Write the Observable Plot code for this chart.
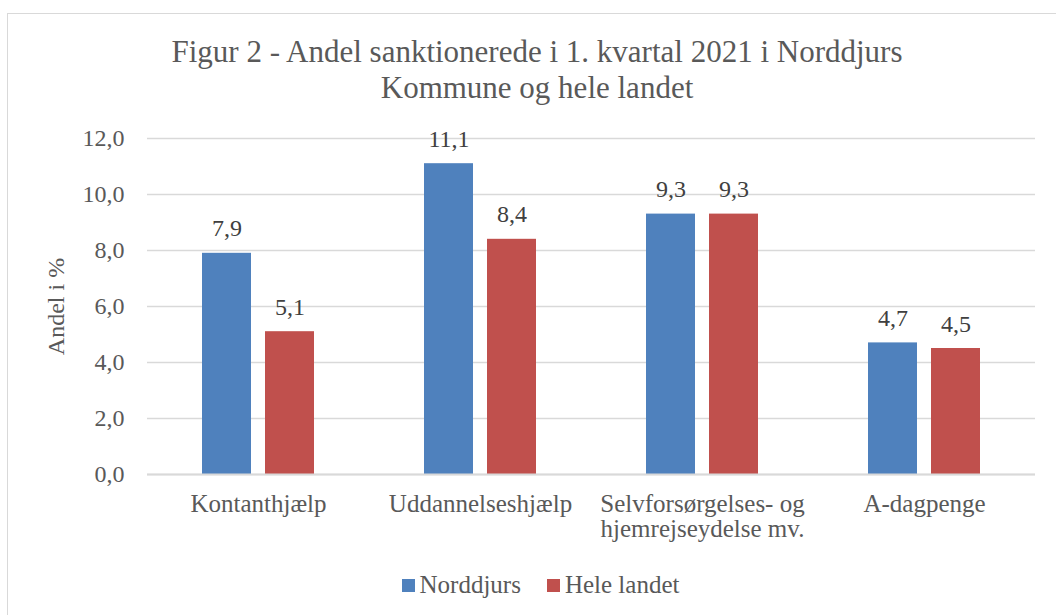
<!DOCTYPE html>
<html>
<head>
<meta charset="utf-8">
<script src="https://cdn.jsdelivr.net/npm/d3@7"></script>
<script src="https://cdn.jsdelivr.net/npm/@observablehq/plot@0.6"></script>
<style>
  html, body { margin: 0; padding: 0; background: #fff; }
  body { width: 1056px; height: 615px; position: relative; overflow: hidden; font-family: "Liberation Serif", serif; color: #595959; }
  #frame { position: absolute; left: 7px; top: 13px; width: 1200px; height: 800px; border: 1.5px solid #d9d9d9; box-sizing: border-box; }
  #title { position: absolute; left: 0; top: 34px; width: 1074px; text-align: center; font-size: 31px; line-height: 36px; color: #595959; }
  #chart { position: absolute; left: 0; top: 110px; }
  #legend { position: absolute; top: 572px; left: 0; width: 1081px; display: flex; justify-content: center; font-size: 25px; line-height: 25px; font-family: "Liberation Serif", serif; }
  .item { display: flex; align-items: center; margin: 0 13px; }
  .sw { width: 13px; height: 13px; margin-right: 5px; margin-top: 2px; }
</style>
</head>
<body>
<div id="frame"></div>
<div id="title">Figur 2 - Andel sanktionerede i 1. kvartal 2021 i Norddjurs<br>Kommune og hele landet</div>
<div id="chart"></div>
<div id="legend"></div>
<script>
const categories = ["Kontanthjælp", "Uddannelseshjælp", "Selvforsørgelses- og\nhjemrejseydelse mv.", "A-dagpenge"];
const series = ["Norddjurs", "Hele landet"];
const norddjurs = [7.9, 11.1, 9.3, 4.7];
const heleLandet = [5.1, 8.4, 9.3, 4.5];
const colors = ["#4f81bd", "#c0504d"];
const yTicks = [0, 2, 4, 6, 8, 10, 12];

const data = [];
categories.forEach((c, i) => {
  data.push({category: c, series: series[0], value: norddjurs[i]});
  data.push({category: c, series: series[1], value: heleLandet[i]});
});

const fmt = v => d3.format(".1f")(v).replace(".", ",");

const chart = Plot.plot({
  width: 1056,
  height: 450,
  marginLeft: 146,
  marginRight: 20,
  marginTop: 28,
  marginBottom: 86,
  style: {fontFamily: "Liberation Serif, serif", color: "#595959", background: "transparent"},
  fx: {domain: categories, padding: 0, label: null},
  x: {domain: series, paddingInner: 0.21875, paddingOuter: 0.852, axis: null},
  y: {domain: [0, 12], label: null},
  color: {domain: series, range: colors},
  marks: [
    Plot.gridY(yTicks, {stroke: "#d9d9d9", strokeOpacity: 1, strokeWidth: 1.5}),
    Plot.barY(data, {fx: "category", x: "series", y: "value", fill: "series"}),
    Plot.ruleY([0], {stroke: "#d9d9d9", strokeWidth: 2}),
    Plot.text(data, {fx: "category", x: "series", y: "value", text: d => fmt(d.value), lineAnchor: "bottom", dy: -17, fontSize: 24, fill: "#404040"}),
    Plot.axisY(yTicks, {tickSize: 0, tickPadding: 23, tickFormat: fmt, fontSize: 24, label: "Andel i %", labelAnchor: "center", labelArrow: "none", labelOffset: 101, color: "#595959"}),
    Plot.axisFx({anchor: "bottom", tickSize: 0, tickPadding: 20, fontSize: 25, label: null, lineHeight: 1, color: "#595959"})
  ]
});
document.getElementById("chart").appendChild(chart);

const legend = document.getElementById("legend");
series.forEach((s, i) => {
  const item = document.createElement("div");
  item.className = "item";
  const sw = document.createElement("span");
  sw.className = "sw";
  sw.style.background = colors[i];
  const t = document.createElement("span");
  t.textContent = s;
  item.appendChild(sw);
  item.appendChild(t);
  legend.appendChild(item);
});
</script>
</body>
</html>
